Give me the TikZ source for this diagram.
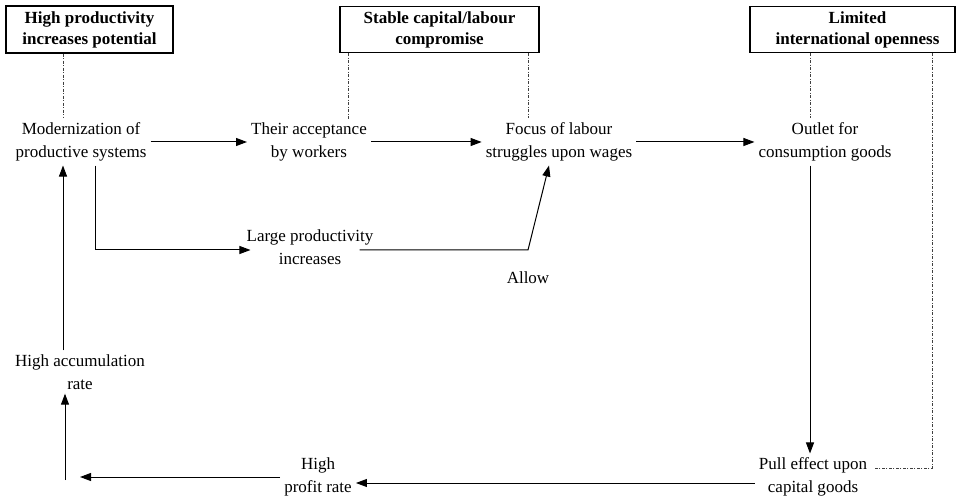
\documentclass[tikz,border=0pt]{standalone}
\usepackage{fontspec}
\setmainfont{Liberation Serif}
\usetikzlibrary{arrows.meta}
\begin{document}
\begin{tikzpicture}[x=1pt,y=-1pt,
  txt/.style={align=center,inner sep=4pt,font=\fontsize{17}{23}\selectfont},
  boxnode/.style={draw,line width=1.5pt,align=center,inner sep=0pt,font=\bfseries\fontsize{17}{21}\selectfont},
  arr/.style={line width=1pt,-{Triangle[length=11pt,width=8pt]}},
  dashline/.style={line width=0.8pt,dash pattern=on 3pt off 1.5pt on 1pt off 1.5pt,black!75}]
\useasboundingbox (0,0) rectangle (957,502);
% boxes
\node[boxnode,minimum width=167pt,minimum height=47pt] (b1) at (89.5,29.5) {High productivity\\increases potential};
\node[boxnode,minimum width=199pt,minimum height=46pt] (b2) at (439.5,29.5) {Stable capital/labour\\compromise};
\node[boxnode,minimum width=205pt,minimum height=46pt] (b3) at (852.5,29.5) {\hspace*{10pt}Limited\\\hspace*{10pt}international openness};
% text nodes
\node[txt] (mod) at (81,142) {Modernization of\\productive systems};
\node[txt] (their) at (309,142) {Their acceptance\\by workers};
\node[txt] (focus) at (559,142) {Focus of labour\\struggles upon wages};
\node[txt] (outlet) at (825,142) {Outlet for\\consumption goods};
\node[txt] (large) at (310,247) {Large productivity\\increases};
\node[txt] (allow) at (528,278) {Allow};
\node[txt] (acc) at (80,372) {High accumulation\\rate};
\node[txt] (profit) at (318,477) {High\\profit rate};
\node[txt] (pull) at (813,477) {Pull effect upon\\capital goods};
% helper coordinates
\coordinate (a1) at (63,0);
\coordinate (a2) at (65,480);
\coordinate (c1) at (95,250);
\coordinate (l2) at (528,250);
\coordinate (t1) at (549,0);
\coordinate (h1) at (80,477);
\coordinate (s1) at (348,0);
\coordinate (s2) at (528,0);
\coordinate (o1) at (810,0);
\coordinate (r1) at (932,468);
% dashed links from boxes
\draw[dashline] (b1.south -| a1) -- (mod.north -| a1);
\draw[dashline] (b2.south -| s1) -- (their.north -| s1);
\draw[dashline] (b2.south -| s2) -- (focus.north -| s2);
\draw[dashline] (b3.south -| o1) -- (outlet.north -| o1);
\draw[dashline] (b3.south -| r1) -- (r1) -- ([xshift=2pt]pull.east |- r1);
% arrows
\draw[arr] (mod.east) -- (their.west);
\draw[arr] (their.east) -- (focus.west);
\draw[arr] (focus.east) -- (outlet.west);
\draw[arr] (outlet.south -| o1) -- (pull.north -| o1);
\draw[arr] ([yshift=-6pt]pull.west) -- ([yshift=-6pt]profit.east);
\draw[arr] (profit.west) -- (h1);
\draw[arr] (a2) -- (acc.south -| a2);
\draw[arr] (acc.north -| a1) -- (mod.south -| a1);
\draw[arr] (mod.south -| c1) -- (c1) -- ([xshift=8pt]large.west |- c1);
\draw[arr] ([xshift=-18pt]large.east |- l2) -- (l2) -- (focus.south -| t1);
\end{tikzpicture}
\end{document}
